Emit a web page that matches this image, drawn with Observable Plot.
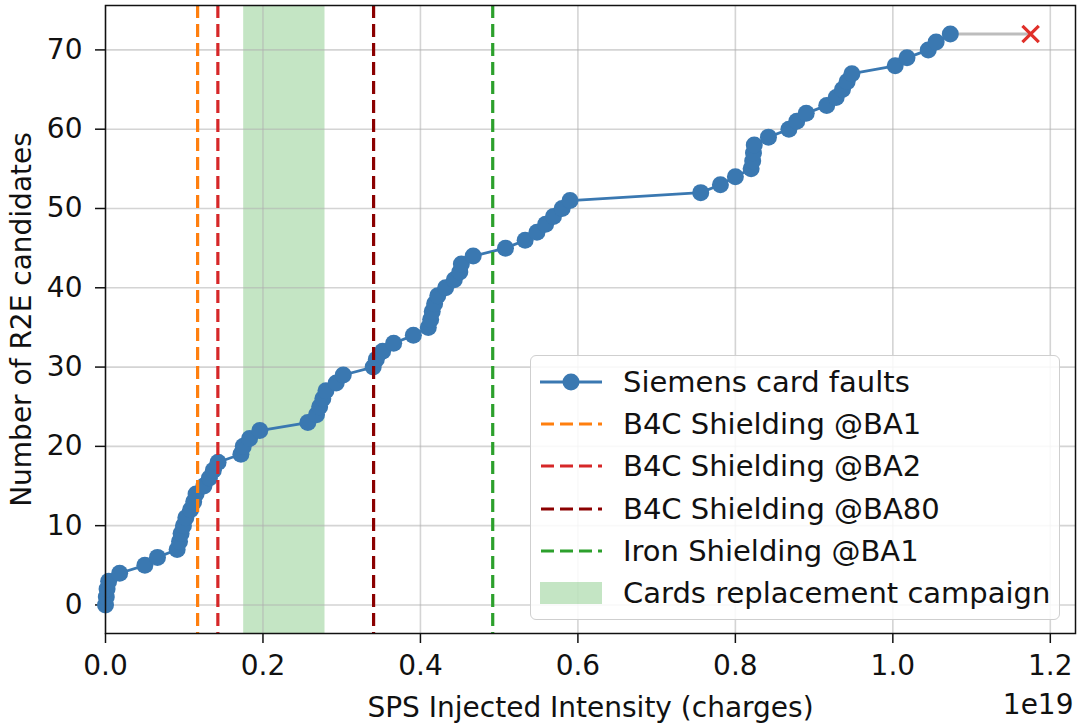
<!DOCTYPE html>
<html>
<head>
<meta charset="utf-8">
<script src="https://cdn.jsdelivr.net/npm/d3@7"></script>
<script src="https://cdn.jsdelivr.net/npm/@observablehq/plot@0.6"></script>
<style>
  html, body { margin: 0; padding: 0; background: white; }
  #wrap { position: relative; width: 1079px; height: 727px; font-family: "DejaVu Sans", sans-serif; }
  #legend { position: absolute; left: 530px; top: 355px; width: 530px; height: 265px; box-sizing: border-box;
    border: 1.5px solid #cfcfcf; border-radius: 6px; background: rgba(255,255,255,0.85); }
  .row { position: absolute; left: 0; height: 30px; display: flex; align-items: center; }
  .row svg { position: absolute; left: 9px; }
  .row span { position: absolute; left: 92px; font-size: 29px; white-space: nowrap; color: #111; line-height: 30px; }
</style>
</head>
<body>
<div id="wrap"></div>
<script>
// Cumulative Siemens card faults: SPS injected intensity (units of 1e19 charges)
const faultIntensity = [
  0.000, 0.001, 0.002, 0.004, 0.018, 0.050, 0.066, 0.091, 0.094, 0.096,
  0.099, 0.102, 0.108, 0.112, 0.115, 0.125, 0.132, 0.137, 0.143, 0.172,
  0.175, 0.183, 0.196, 0.257, 0.268, 0.272, 0.276, 0.280, 0.293, 0.302,
  0.340, 0.344, 0.352, 0.366, 0.391, 0.410, 0.413, 0.415, 0.418, 0.422,
  0.432, 0.443, 0.450, 0.452, 0.467, 0.508, 0.533, 0.548, 0.559, 0.569,
  0.580, 0.590, 0.756, 0.781, 0.800, 0.820, 0.822, 0.823, 0.824, 0.842,
  0.868, 0.878, 0.890, 0.916, 0.928, 0.936, 0.942, 0.948, 1.003, 1.018,
  1.045, 1.055, 1.073
];
const faultCount = [
  0, 1, 2, 3, 4, 5, 6, 7, 8, 9,
  10, 11, 12, 13, 14, 15, 16, 17, 18, 19,
  20, 21, 22, 23, 24, 25, 26, 27, 28, 29,
  30, 31, 32, 33, 34, 35, 36, 37, 38, 39,
  40, 41, 42, 43, 44, 45, 46, 47, 48, 49,
  50, 51, 52, 53, 54, 55, 56, 57, 58, 59,
  60, 61, 62, 63, 64, 65, 66, 67, 68, 69,
  70, 71, 72
];
// Projection to current intensity (gray segment ending with red cross)
const projectionIntensity = [1.073, 1.175];
const projectionCount = [72, 72];

const shieldLabels = ["B4C Shielding @BA1", "B4C Shielding @BA2", "B4C Shielding @BA80", "Iron Shielding @BA1"];
const shieldIntensity = [0.117, 0.1427, 0.3405, 0.4918];
const shieldColors = ["#ff7f0e", "#d62728", "#8b0000", "#2ca02c"];

const campaignLabel = "Cards replacement campaign";
const campaignStart = [0.1755];
const campaignEnd = [0.2788];

const xTicks = [0.0, 0.2, 0.4, 0.6, 0.8, 1.0, 1.2];
const yTicks = [0, 10, 20, 30, 40, 50, 60, 70];
const xDomain = [0, 1.232];
const yDomain = [-3.6, 75.6];

const faults = faultIntensity.map((x, i) => ({x, y: faultCount[i]}));
const projection = projectionIntensity.map((x, i) => ({x, y: projectionCount[i]}));
const shields = shieldIntensity.map((x, i) => ({x, label: shieldLabels[i], color: shieldColors[i]}));
const campaign = campaignStart.map((s, i) => ({start: s, end: campaignEnd[i]}));

const blue = "#3a78b1";

const chart = Plot.plot({
  width: 1079,
  height: 727,
  marginLeft: 105,
  marginRight: 4,
  marginTop: 5,
  marginBottom: 94,
  x: {domain: xDomain},
  y: {domain: yDomain},
  style: {fontFamily: "DejaVu Sans", background: "white", color: "#111"},
  marks: [
    Plot.rect(campaign, {x1: "start", x2: "end", fill: "#2ca02c", fillOpacity: 0.28}),
    Plot.gridX(xTicks, {stroke: "#b0b0b0", strokeOpacity: 0.55, strokeWidth: 1.6}),
    Plot.gridY(yTicks, {stroke: "#b0b0b0", strokeOpacity: 0.55, strokeWidth: 1.6}),
    Plot.axisX({ticks: xTicks, tickFormat: ".1f", fontSize: 28, tickSize: 10, tickPadding: 12, strokeWidth: 1.5,
      label: "SPS Injected Intensity (charges)", labelAnchor: "center", labelArrow: "none", labelOffset: 83}),
    Plot.axisY({ticks: yTicks, tickFormat: "d", fontSize: 28, tickSize: 10, tickPadding: 13, strokeWidth: 1.5,
      label: "Number of R2E candidates", labelAnchor: "center", labelArrow: "none", labelOffset: 94}),
    Plot.text(["1e19"], {frameAnchor: "bottom-right", text: d => d, dy: 72, dx: -2, textAnchor: "end", lineAnchor: "middle", fontSize: 28}),
    Plot.line(projection, {x: "x", y: "y", stroke: "#bdbdbd", strokeWidth: 3}),
    Plot.line(faults, {x: "x", y: "y", stroke: blue, strokeWidth: 2.8}),
    Plot.dot(faults, {x: "x", y: "y", r: 8.5, fill: blue, stroke: "none"}),
    Plot.dot(projection.slice(-1), {x: "x", y: "y", symbol: "times", r: 7.5, stroke: "#e0302a", strokeWidth: 3.2}),
    Plot.ruleX(shields, {x: "x", stroke: "color", strokeWidth: 3.2, strokeDasharray: "13,6"}),
    Plot.frame({stroke: "#111", strokeWidth: 1.5})
  ]
});

const wrap = document.getElementById("wrap");
wrap.appendChild(chart);

// Legend (HTML overlay inside the axes, lower right)
const legend = document.createElement("div");
legend.id = "legend";
const rows = [
  {label: "Siemens card faults", kind: "line", color: blue},
  ...shields.map(s => ({label: s.label, kind: "dash", color: s.color})),
  {label: campaignLabel, kind: "rect", color: "#2ca02c"}
];
rows.forEach((r, i) => {
  const row = document.createElement("div");
  row.className = "row";
  row.style.top = (11 + i * 42.2) + "px";
  row.style.width = "100%";
  let sw = "";
  if (r.kind === "line") {
    sw = `<svg width="62" height="30"><line x1="0" x2="62" y1="15" y2="15" stroke="${r.color}" stroke-width="2.8"/><circle cx="31" cy="15" r="8.5" fill="${r.color}"/></svg>`;
  } else if (r.kind === "dash") {
    sw = `<svg width="62" height="30"><line x1="1" x2="62" y1="15" y2="15" stroke="${r.color}" stroke-width="3.2" stroke-dasharray="13,6"/></svg>`;
  } else {
    sw = `<svg width="62" height="30"><rect x="0" y="4" width="62" height="22" fill="${r.color}" fill-opacity="0.28"/></svg>`;
  }
  row.innerHTML = sw + `<span>${r.label}</span>`;
  legend.appendChild(row);
});
wrap.appendChild(legend);
</script>
</body>
</html>
